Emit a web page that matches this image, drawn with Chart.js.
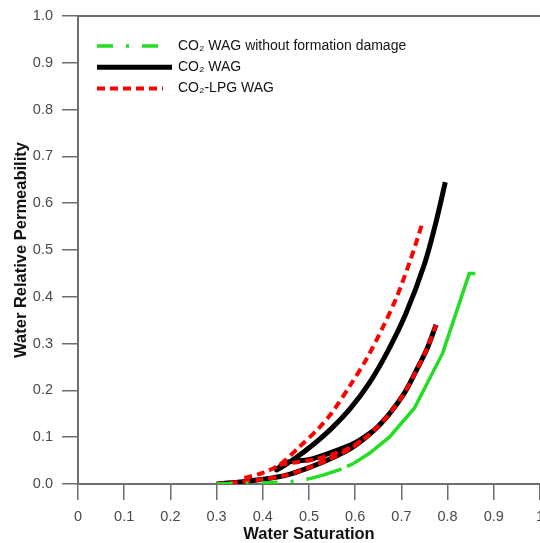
<!DOCTYPE html>
<html>
<head>
<meta charset="utf-8">
<script src="https://cdn.jsdelivr.net/npm/chart.js@4"></script>
<style>
  html, body { margin: 0; padding: 0; background: #fff; overflow: hidden; }
  #wrap { width: 540px; height: 543px; position: relative; }
</style>
</head>
<body>
<div id="wrap"><canvas id="chart"></canvas></div>
<script>
// CO2 WAG without formation damage
const greenSw  = [0.30, 0.34, 0.38, 0.42, 0.46, 0.50, 0.53, 0.565, 0.595, 0.63, 0.674, 0.728, 0.789, 0.847, 0.860];
const greenKrw = [0.000, 0.001, 0.002, 0.003, 0.005, 0.011, 0.019, 0.030, 0.043, 0.065, 0.100, 0.162, 0.279, 0.450, 0.450];

// CO2 WAG: lower branch, gap, upper branch (down) then second imbibition branch
const blackSw  = [0.30, 0.357, 0.40, 0.451, 0.494, 0.544, 0.595, 0.64, 0.674, 0.705, 0.731, 0.755, 0.775,
                  null,
                  0.795, 0.775, 0.75, 0.71, 0.67, 0.63, 0.59, 0.55, 0.51, 0.47, 0.43,
                  0.45, 0.50, 0.55, 0.60, 0.64];
const blackKrw = [0.000, 0.005, 0.010, 0.019, 0.033, 0.053, 0.079, 0.114, 0.150, 0.192, 0.240, 0.288, 0.340,
                  null,
                  0.645, 0.560, 0.470, 0.365, 0.283, 0.215, 0.162, 0.120, 0.085, 0.055, 0.030,
                  0.046, 0.052, 0.068, 0.088, 0.114];

// CO2-LPG WAG: lower branch, gap, upper branch, gap, second imbibition branch
const redSw  = [0.30, 0.357, 0.40, 0.451, 0.494, 0.544, 0.595, 0.64, 0.674, 0.705, 0.731, 0.755, 0.775,
                null,
                0.36, 0.40, 0.436, 0.48, 0.52, 0.55, 0.59, 0.625, 0.66, 0.69, 0.72, 0.745,
                null,
                0.436, 0.47, 0.51, 0.55, 0.59, 0.615];
const redKrw = [0.000, 0.005, 0.010, 0.019, 0.033, 0.053, 0.079, 0.114, 0.150, 0.192, 0.240, 0.288, 0.340,
                null,
                0.013, 0.024, 0.041, 0.080, 0.118, 0.153, 0.212, 0.268, 0.335, 0.400, 0.480, 0.556,
                null,
                0.041, 0.046, 0.052, 0.063, 0.078, 0.094];

const seriesLabels = ['CO\u2082 WAG without formation damage', 'CO\u2082 WAG', 'CO\u2082-LPG WAG'];

const FONT = '"Liberation Sans", Arial, sans-serif';
const AXIS = '#6e6e6e';

function toPoints(xs, ys) {
    return xs.map((x, i) => ({ x: x, y: ys[i] }));
}

// legend drawn inside the plot, top-left
const insideLegend = {
    id: 'insideLegend',
    afterDatasetsDraw(chart) {
        const ctx = chart.ctx;
        const area = chart.chartArea;
        chart.data.datasets.forEach((ds, i) => {
            const y = area.top + 30 + i * 21.3;
            const x0 = area.left + 19;
            const len = ds.borderDash && ds.borderDash.length ? 66 : 75;
            ctx.save();
            ctx.strokeStyle = ds.borderColor;
            ctx.lineWidth = ds.borderWidth;
            ctx.setLineDash(ds.borderDash || []);
            ctx.beginPath();
            ctx.moveTo(x0, y);
            ctx.lineTo(x0 + len, y);
            ctx.stroke();
            ctx.setLineDash([]);
            ctx.fillStyle = '#141414';
            ctx.font = '14px ' + FONT;
            ctx.textBaseline = 'middle';
            ctx.fillText(ds.label, x0 + 81, y);
            ctx.restore();
        });
    }
};

// top frame line
const topFrame = {
    id: 'topFrame',
    afterDraw(chart) {
        const ctx = chart.ctx;
        const a = chart.chartArea;
        ctx.save();
        ctx.strokeStyle = AXIS;
        ctx.lineWidth = 2;
        ctx.beginPath();
        ctx.moveTo(a.left, a.top);
        ctx.lineTo(a.right, a.top);
        ctx.stroke();
        ctx.restore();
    }
};

new Chart(document.getElementById('chart'), {
    type: 'line',
    data: {
        datasets: [
            {
                label: seriesLabels[0],
                data: toPoints(greenSw, greenKrw),
                borderColor: '#22dd22',
                borderWidth: 3.5,
                borderDash: [16, 13, 3, 13],
                tension: 0,
                order: 0,
                segment: {
                    borderDash: c => c.p0.parsed.x >= 0.595 ? [] : (c.p0.parsed.x >= 0.5 ? [34, 6] : undefined)
                }
            },
            {
                label: seriesLabels[1],
                data: toPoints(blackSw, blackKrw),
                borderColor: '#000000',
                borderWidth: 5,
                tension: 0.3,
                order: 2
            },
            {
                label: seriesLabels[2],
                data: toPoints(redSw, redKrw),
                borderColor: '#ff0000',
                borderWidth: 4,
                borderDash: [8, 5],
                tension: 0.3,
                order: 1
            }
        ]
    },
    options: {
        responsive: true,
        maintainAspectRatio: false,
        animation: false,
        events: [],
        spanGaps: false,
        elements: { point: { radius: 0 } },
        layout: { autoPadding: false, padding: { top: 16, right: 0, bottom: 0, left: 0 } },
        plugins: {
            legend: { display: false },
            tooltip: { enabled: false }
        },
        scales: {
            x: {
                type: 'linear',
                min: 0,
                max: 1,
                afterFit: s => { s.height = 59; s.paddingLeft = 0; s.paddingRight = 0; },
                ticks: {
                    stepSize: 0.1,
                    padding: 8,
                    color: '#4a4a4a',
                    font: { family: FONT, size: 14.5 },
                    maxRotation: 0,
                    callback: v => String(Math.round(v * 10) / 10)
                },
                grid: { drawOnChartArea: false, tickLength: 16, color: AXIS, lineWidth: 1.5 },
                border: { color: AXIS, width: 2 },
                title: {
                    display: true,
                    text: 'Water Saturation',
                    color: '#111',
                    font: { family: FONT, size: 16.5, weight: 'bold', lineHeight: 1 },
                    padding: { top: 0, bottom: 0 }
                }
            },
            y: {
                min: 0,
                max: 1,
                afterFit: s => { s.width = 78; s.paddingTop = 0; s.paddingBottom = 0; },
                ticks: {
                    stepSize: 0.1,
                    padding: 9,
                    color: '#4a4a4a',
                    font: { family: FONT, size: 14.5 },
                    callback: v => v.toFixed(1)
                },
                grid: { drawOnChartArea: false, tickLength: 16, color: AXIS, lineWidth: 1.5 },
                border: { color: AXIS, width: 2 },
                title: {
                    display: true,
                    text: 'Water Relative Permeability',
                    color: '#111',
                    font: { family: FONT, size: 16.5, weight: 'bold', lineHeight: 1 },
                    padding: { top: 13, bottom: 0 }
                }
            }
        }
    },
    plugins: [insideLegend, topFrame]
});
</script>
</body>
</html>
